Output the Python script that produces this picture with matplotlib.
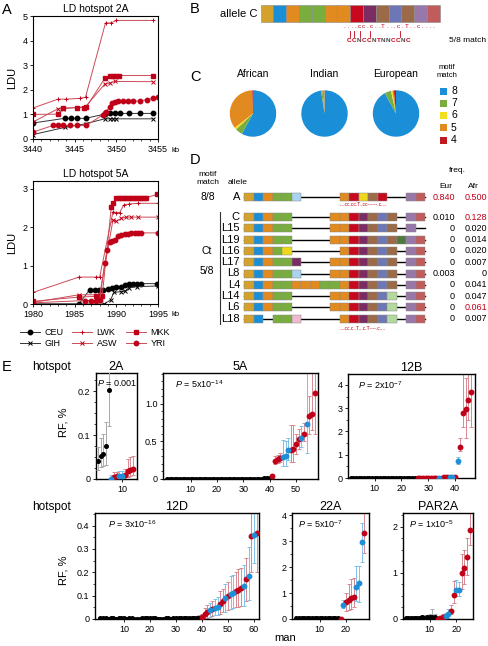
import matplotlib
matplotlib.use('Agg')
import matplotlib.pyplot as plt
from matplotlib.patches import Rectangle
from matplotlib.lines import Line2D
from matplotlib.ticker import MultipleLocator
import numpy as np

plt.rcParams['font.family'] = ['Liberation Sans', 'DejaVu Sans']
plt.rcParams['mathtext.fontset'] = 'custom'
plt.rcParams['mathtext.rm'] = 'Liberation Sans'
plt.rcParams['mathtext.it'] = 'Liberation Sans:italic'
plt.rcParams['axes.linewidth'] = 0.8

W, H = 489, 646

# ---------------- panel A : LD maps ----------------
a2_ceu_kb = [3440, 3443.8, 3444.6, 3445.3, 3446.3, 3448.6, 3449.2, 3449.8, 3450.4, 3451.5, 3452.8, 3454.4]
a2_ceu_ldu = [0.65, 0.84, 0.84, 0.84, 0.84, 1.01, 1.04, 1.04, 1.04, 1.04, 1.04, 1.04]
a2_gih_kb = [3440, 3443.8, 3446.3, 3448.6, 3449.2, 3449.6, 3450.0, 3454.4]
a2_gih_ldu = [0.18, 0.47, 0.62, 0.82, 0.82, 0.82, 0.82, 0.82]
a2_lwk_kb = [3440, 3443.0, 3443.9, 3445.6, 3446.3, 3448.7, 3449.4, 3450.0, 3454.4]
a2_lwk_ldu = [1.26, 1.62, 1.62, 1.65, 1.70, 4.72, 4.72, 4.82, 4.82]
a2_asw_kb = [3440, 3443.0, 3443.6, 3446.3, 3448.6, 3449.2, 3449.8, 3454.4]
a2_asw_ldu = [0.69, 1.23, 1.23, 1.31, 2.23, 2.27, 2.34, 2.33]
a2_mkk_kb = [3440, 3443.0, 3443.6, 3445.3, 3446.1, 3446.4, 3448.6, 3449.2, 3449.6, 3449.9, 3450.3, 3454.4]
a2_mkk_ldu = [1.0, 1.01, 1.26, 1.28, 1.28, 1.30, 2.46, 2.58, 2.58, 2.58, 2.58, 2.58]
a2_yri_kb = [3440, 3442.4, 3443.0, 3443.6, 3444.4, 3445.3, 3446.4, 3448.4, 3448.6, 3448.8, 3449.2, 3449.5,
             3449.8, 3450.2, 3450.8, 3451.4, 3452.0, 3452.8, 3453.7, 3454.4, 3455]
a2_yri_ldu = [0.28, 0.55, 0.55, 0.55, 0.55, 0.55, 0.55, 0.99, 1.04, 1.10, 1.32, 1.45,
              1.50, 1.53, 1.53, 1.53, 1.53, 1.55, 1.60, 1.65, 1.69]

a5_ceu_kb = [1980, 1985.5, 1986.8, 1987.4, 1987.9, 1988.4, 1989.0, 1989.5, 1990.0, 1990.5, 1991.0, 1991.5,
             1992.0, 1992.5, 1993.0, 1994.9]
a5_ceu_ldu = [0.0, 0.0, 0.37, 0.37, 0.37, 0.37, 0.38, 0.42, 0.43, 0.43, 0.50, 0.53,
              0.53, 0.53, 0.53, 0.53]
a5_gih_kb = [1980, 1988.5, 1989.3, 1989.7, 1990.5, 1991.0, 1991.5, 1992.5, 1995]
a5_gih_ldu = [0.0, 0.0, 0.10, 0.30, 0.32, 0.33, 0.42, 0.45, 0.47]
a5_lwk_kb = [1980, 1985.5, 1987.6, 1988.0, 1989.6, 1990.0, 1990.4, 1990.9, 1991.5, 1992.6, 1995]
a5_lwk_ldu = [0.30, 0.70, 0.70, 0.70, 2.40, 2.38, 2.38, 2.58, 2.60, 2.62, 2.62]
a5_asw_kb = [1980, 1985.5, 1988.0, 1989.6, 1990.0, 1990.6, 1991.2, 1991.8, 1992.6, 1995]
a5_asw_ldu = [0.04, 0.24, 0.24, 2.19, 2.15, 2.23, 2.26, 2.26, 2.26, 2.26]
a5_mkk_kb = [1980, 1985.5, 1987.6, 1988.0, 1988.3, 1989.4, 1989.6, 1990.0, 1990.3, 1990.6, 1990.9, 1991.2,
             1991.5, 1991.8, 1992.1, 1992.4, 1992.7, 1993.0, 1993.3, 1993.6, 1994.9]
a5_mkk_ldu = [0.07, 0.18, 0.20, 0.20, 0.20, 2.53, 2.62, 2.75, 2.75, 2.75, 2.75, 2.75,
              2.75, 2.75, 2.75, 2.76, 2.77, 2.77, 2.77, 2.77, 2.85]
a5_yri_kb = [1980, 1986.2, 1986.9, 1987.5, 1988.0, 1988.6, 1988.9, 1989.2, 1989.5, 1989.8, 1990.2, 1990.6,
             1991.0, 1991.4, 1991.8, 1992.2, 1992.6, 1993.0, 1995]
a5_yri_ldu = [0.03, 0.09, 0.09, 0.09, 0.10, 1.06, 1.40, 1.62, 1.65, 1.66, 1.78, 1.80,
              1.82, 1.82, 1.84, 1.84, 1.84, 1.85, 1.85]

# ---------------- panel B/D : allele structures ----------------
seg_colors = {'G': '#D4A22C', 'B': '#1A8ED6', 'O': '#E18A1F', 'N': '#79AD3D', 'L': '#A9D3F0',
              'R': '#C8081E', 'P': '#7A2C63', 'W': '#9A6A49', 'S': '#6D77B6', 'M': '#9878A8',
              'X': '#C05C5C', 'Y': '#EDD81C', 'D': '#4D7B3D', 'T': '#B4D9A0', 'K': '#ECB9D1'}
allele_c = 'GBONNOORPWSWMX'
motif_text = '....cc.c..T...c.T..c....'
motif_cons = 'CCNCCNTNNCCNC'

d_names = ['A', 'C', 'L15', 'L19', 'L16', 'L17', 'L8', 'L4', 'L14', 'L6', 'L18']
d_struct = ['GBONNL----ORYWR--MX',
            'GBONN----OORPWSW-MX',
            'GBONN----OORPWSW-M-',
            'GBONN----OORPWSWDMX',
            'GBONY-----ORPWSW-MX',
            'GBONNP---OORPWSW-MX',
            'GBONNL---OORPWSW-MX',
            'GBONNOOONNORPWSW-MX',
            'GBONN----OORPWST-MX',
            'GBONN----OORPWST-MX',
            'GB-NNK----ORPWST-MX']
d_eur = ['0.840', '0.010', '0', '0', '0', '0', '0.003', '0', '0', '0', '0']
d_afr = ['0.500', '0.128', '0.020', '0.014', '0.020', '0.007', '0', '0.041', '0.047', '0.061', '0.007']
d_eur_red = [True] + [False] * 10
d_afr_red = [True, True, False, False, False, False, False, False, False, True, False]

# ---------------- panel C : motif match pies ----------------
pie_groups = ['African', 'Indian', 'European']
match_levels = ['8', '7', '6', '5', '4']
match_colors = ['#1A8ED6', '#79AD3D', '#F2E01E', '#E18A1F', '#C01A20']
pie_african = [58.0, 5.0, 1.5, 35.0, 0.5]
pie_indian = [97.6, 1.0, 0.0, 1.4, 0.0]
pie_european = [92.0, 4.5, 1.0, 1.0, 1.5]

# ---------------- panel E : recombination frequency ----------------
# 2A
e2a_bx = [1, 2, 3, 4, 5]
e2a_by = [0.042, 0.053, 0.057, 0.074, 0.203]
e2a_blo = [0.020, 0.028, 0.030, 0.032, 0.120]
e2a_bhi = [0.073, 0.093, 0.103, 0.130, 0.300]
e2a_x = [6, 7, 8, 9, 10, 11, 12, 13, 14]
e2a_y = [0.0, 0.004, 0.006, 0.006, 0.006, 0.008, 0.018, 0.020, 0.022]
e2a_lo = [0.0, 0.0, 0.0, 0.0, 0.0, 0.0, 0.005, 0.007, 0.010]
e2a_hi = [0.008, 0.015, 0.017, 0.018, 0.018, 0.022, 0.045, 0.050, 0.052]
e2a_grp = ['b', 'r', 'r', 'b', 'b', 'r', 'r', 'r', 'r']

# 5A
e5a_bx = list(range(1, 41))
e5a_by = [0.002, 0.002, 0.003, 0.002, 0.002, 0.003, 0.002, 0.002, 0.002, 0.003,
          0.002, 0.002, 0.002, 0.003, 0.002, 0.002, 0.002, 0.002, 0.003, 0.002,
          0.002, 0.002, 0.003, 0.002, 0.002, 0.002, 0.002, 0.003, 0.002, 0.002,
          0.002, 0.003, 0.002, 0.002, 0.002, 0.003, 0.004, 0.008, 0.009, 0.010]
e5a_x = list(range(41, 58))
e5a_y = [0.04, 0.24, 0.26, 0.28, 0.29, 0.30, 0.385, 0.39, 0.40, 0.47, 0.53, 0.55, 0.60, 0.73, 0.84, 0.86, 1.15]
e5a_lo = [0.01, 0.20, 0.21, 0.22, 0.17, 0.17, 0.25, 0.22, 0.23, 0.33, 0.40, 0.42, 0.50, 0.35, 0.60, 0.65, 0.60]
e5a_hi = [0.07, 0.30, 0.32, 0.34, 0.52, 0.50, 0.55, 0.72, 0.72, 0.60, 0.67, 0.70, 0.75, 1.50, 1.10, 1.50, 1.50]
e5a_grp = ['r', 'r', 'r', 'r', 'b', 'b', 'b', 'r', 'r', 'r', 'r', 'b', 'r', 'b', 'r', 'r', 'r']

# 12B
e12b_bx = list(range(1, 26))
e12b_by = [0.01, 0.01, 0.01, 0.01, 0.01, 0.01, 0.01, 0.01, 0.01, 0.01, 0.01, 0.01, 0.01,
           0.01, 0.01, 0.01, 0.01, 0.01, 0.01, 0.01, 0.01, 0.01, 0.01, 0.01, 0.01]
e12b_x = list(range(26, 47))
e12b_y = [0.01, 0.01, 0.01, 0.02, 0.01, 0.02, 0.02, 0.02, 0.02, 0.02, 0.03, 0.03, 0.03, 0.04, 0.04,
          0.74, 1.35, 2.80, 2.95, 3.35, 3.70]
e12b_lo = [0.0, 0.0, 0.0, 0.0, 0.0, 0.0, 0.0, 0.0, 0.0, 0.0, 0.0, 0.0, 0.0, 0.0, 0.0,
           0.60, 1.15, 2.20, 1.70, 2.50, 2.20]
e12b_hi = [0.05, 0.05, 0.05, 0.06, 0.05, 0.06, 0.06, 0.07, 0.07, 0.07, 0.08, 0.08, 0.08, 0.09, 0.09,
           0.92, 1.72, 4.60, 4.30, 4.60, 4.60]
e12b_grp = ['r', 'r', 'r', 'r', 'r', 'r', 'r', 'r', 'b', 'r', 'r', 'r', 'b', 'b', 'r',
            'b', 'r', 'r', 'r', 'r', 'r']

# 12D
e12d_bx = list(range(1, 40))
e12d_by = [0.003, 0.003, 0.003, 0.002, 0.003, 0.003, 0.002, 0.003, 0.003, 0.003,
           0.002, 0.003, 0.003, 0.002, 0.002, 0.002, 0.003, 0.003, 0.003, 0.003,
           0.003, 0.003, 0.002, 0.002, 0.002, 0.003, 0.003, 0.002, 0.003, 0.003,
           0.003, 0.003, 0.003, 0.003, 0.003, 0.003, 0.004, 0.005, 0.006]
e12d_bhi = [0.008, 0.008, 0.009, 0.006, 0.009, 0.009, 0.007, 0.009, 0.009, 0.009,
            0.006, 0.009, 0.009, 0.006, 0.006, 0.006, 0.008, 0.009, 0.009, 0.009,
            0.009, 0.008, 0.006, 0.006, 0.006, 0.009, 0.009, 0.006, 0.008, 0.009,
            0.009, 0.009, 0.009, 0.009, 0.009, 0.010, 0.012, 0.014, 0.016]
e12d_x = list(range(40, 62))
e12d_y = [0.008, 0.020, 0.030, 0.037, 0.042, 0.048, 0.052, 0.065, 0.078, 0.088, 0.098,
          0.108, 0.112, 0.118, 0.125, 0.132, 0.142, 0.171, 0.186, 0.357, 0.360, 0.370]
e12d_lo = [0.0, 0.002, 0.006, 0.010, 0.012, 0.015, 0.016, 0.022, 0.028, 0.032, 0.040,
           0.042, 0.046, 0.050, 0.052, 0.055, 0.056, 0.075, 0.080, 0.200, 0.240, 0.200]
e12d_hi = [0.020, 0.045, 0.060, 0.070, 0.075, 0.085, 0.095, 0.120, 0.130, 0.150, 0.160,
           0.185, 0.190, 0.200, 0.215, 0.220, 0.230, 0.260, 0.310, 0.470, 0.470, 0.470]
e12d_grp = ['r', 'r', 'r', 'b', 'r', 'b', 'b', 'r', 'r', 'b', 'r',
            'b', 'b', 'r', 'r', 'r', 'b', 'r', 'b', 'r', 'b', 'r']

# 22A
e22a_bx = list(range(1, 18))
e22a_by = [0.02, 0.02, 0.02, 0.02, 0.02, 0.02, 0.02, 0.02, 0.02, 0.02, 0.02, 0.02, 0.02,
           0.02, 0.02, 0.03, 0.05]
e22a_x = [18, 19, 20, 21, 22, 23, 24, 25, 26, 27]
e22a_y = [0.01, 0.55, 0.65, 0.72, 0.80, 0.86, 1.25, 1.38, 2.95, 3.30]
e22a_lo = [0.0, 0.42, 0.30, 0.35, 0.40, 0.45, 0.70, 0.66, 2.20, 2.55]
e22a_hi = [0.04, 0.72, 1.00, 1.33, 1.55, 1.58, 2.05, 2.05, 3.70, 4.20]
e22a_grp = ['r', 'b', 'r', 'r', 'r', 'r', 'b', 'b', 'b', 'r']

# PAR2A
epar_bx = list(range(1, 13))
epar_by = [0.02, 0.02, 0.03, 0.02, 0.03, 0.03, 0.04, 0.03, 0.04, 0.05, 0.05, 0.04]
epar_bhi = [0.05, 0.05, 0.06, 0.05, 0.07, 0.07, 0.08, 0.08, 0.09, 0.10, 0.22, 0.10]
epar_x = [13, 14, 15, 16, 17, 18, 19, 20, 21, 22, 23, 24, 25]
epar_y = [0.01, 0.03, 0.05, 0.06, 0.10, 0.18, 0.53, 0.63, 0.63, 1.00, 1.10, 1.35, 1.93]
epar_lo = [0.0, 0.0, 0.01, 0.01, 0.02, 0.10, 0.35, 0.50, 0.50, 0.65, 0.75, 0.95, 1.60]
epar_hi = [0.04, 0.07, 0.10, 0.14, 0.22, 0.30, 0.82, 0.85, 0.80, 1.40, 1.50, 1.75, 2.40]
epar_grp = ['r', 'r', 'r', 'b', 'b', 'r', 'r', 'b', 'b', 'r', 'r', 'r', 'r']

RED = '#C00018'
RED_LINE = '#CC4A55'
RED_ERR = '#D98890'
BLUE = '#1E8FD6'
BLUE_ERR = '#80C2EA'
GREY_ERR = '#A8A8A8'


def box(l, t, r, b):
    return [l / W, 1 - b / H, (r - l) / W, (b - t) / H]


fig = plt.figure(figsize=(W / 100, H / 100), dpi=100)
ov = fig.add_axes([0, 0, 1, 1])
ov.set_xlim(0, W)
ov.set_ylim(H, 0)
ov.axis('off')

# ---------- A ----------
pops = ['CEU', 'GIH', 'LWK', 'ASW', 'MKK', 'YRI']
styles = {'CEU': dict(color='#333333', marker='o', ms=3.2, mfc='k', mec='k'),
          'GIH': dict(color='#333333', marker='x', ms=3.0, mfc='k', mec='k', mew=0.7),
          'LWK': dict(color=RED_LINE, marker='+', ms=3.5, mfc=RED, mec=RED, mew=0.7),
          'ASW': dict(color=RED_LINE, marker='x', ms=3.0, mfc=RED, mec=RED, mew=0.7),
          'MKK': dict(color=RED_LINE, marker='s', ms=3.2, mfc=RED, mec=RED),
          'YRI': dict(color=RED_LINE, marker='o', ms=3.2, mfc=RED, mec=RED)}

a2_data = {'CEU': (a2_ceu_kb, a2_ceu_ldu), 'GIH': (a2_gih_kb, a2_gih_ldu), 'LWK': (a2_lwk_kb, a2_lwk_ldu),
           'ASW': (a2_asw_kb, a2_asw_ldu), 'MKK': (a2_mkk_kb, a2_mkk_ldu), 'YRI': (a2_yri_kb, a2_yri_ldu)}
a5_data = {'CEU': (a5_ceu_kb, a5_ceu_ldu), 'GIH': (a5_gih_kb, a5_gih_ldu), 'LWK': (a5_lwk_kb, a5_lwk_ldu),
           'ASW': (a5_asw_kb, a5_asw_ldu), 'MKK': (a5_mkk_kb, a5_mkk_ldu), 'YRI': (a5_yri_kb, a5_yri_ldu)}

for rect, data, title, xl, yl, xt, yt in [
        ((33, 16, 158, 139), a2_data, 'LD hotspot 2A', (3440, 3455), (0, 5), [3440, 3445, 3450, 3455], range(0, 6)),
        ((33, 181, 158, 304), a5_data, 'LD hotspot 5A', (1980, 1995), (0, 3.2), [1980, 1985, 1990, 1995], range(0, 4))]:
    ax = fig.add_axes(box(*rect))
    for p in pops:
        ax.plot(data[p][0], data[p][1], lw=0.7, clip_on=True, **styles[p])
    ax.set_xlim(*xl)
    ax.set_ylim(*yl)
    ax.set_xticks(xt)
    ax.set_yticks(list(yt))
    ax.xaxis.set_minor_locator(MultipleLocator(1))
    ax.tick_params(labelsize=6.5, length=2.5, width=0.6, pad=1.5)
    ax.tick_params(which='minor', length=1.3, width=0.5)
    ax.set_title(title, fontsize=7.5, pad=3)
    ax.set_ylabel('LDU', fontsize=8, labelpad=4)

ov.text(171, 150, 'kb', fontsize=5.5, ha='left', va='center')
ov.text(171, 315, 'kb', fontsize=5.5, ha='left', va='center')

handles = [Line2D([], [], lw=0.7, **styles[p]) for p in pops]
fig.legend(handles, pops, loc='center', bbox_to_anchor=(95 / W, 1 - 338 / H), ncol=3, frameon=False,
           fontsize=6.5, handlelength=2.2, handletextpad=0.5, columnspacing=1.0, labelspacing=0.25)

# ---------- B ----------
bx0, bw, btop, bh = 260.5, 12.8, 5, 17
for i, c in enumerate(allele_c):
    ov.add_patch(Rectangle((bx0 + i * bw, btop), bw, bh, facecolor=seg_colors[c], edgecolor='#8a8a8a', lw=0.4))
ov.text(257, 14, 'allele C', fontsize=8, ha='right', va='center')
for i, ch in enumerate(motif_text):
    ov.text(344 + i * 3.9, 26, ch, fontsize=4.5, color=RED, ha='center', va='center')
for xl_ in [350, 353.5, 359.5, 369.5, 400]:
    ov.plot([xl_, xl_], [30.5, 36.5], color=RED, lw=0.6)
for i, ch in enumerate(motif_cons):
    ov.text(349 + i * 4.9, 40, ch, fontsize=4.6, color=RED if ch != 'N' else '#4a4a4a',
            ha='center', va='center', fontweight='bold')
ov.text(449, 40, '5/8 match', fontsize=6, ha='left', va='center')

# ---------- C ----------
pie_vals = [pie_african, pie_indian, pie_european]
for k, (g, vals) in enumerate(zip(pie_groups, pie_vals)):
    cxp = [253, 324.5, 396][k]
    pa = fig.add_axes(box(cxp - 29, 84.5, cxp + 29, 142.5))
    pa.pie(vals, colors=match_colors, startangle=90, counterclock=False,
           wedgeprops=dict(linewidth=0))
    pa.set_aspect('equal')
    ov.text(cxp, 74, g, fontsize=7.5, ha='center', va='center')
ov.text(447, 67.5, 'motif', fontsize=5.5, ha='center', va='center')
ov.text(447, 75.5, 'match', fontsize=5.5, ha='center', va='center')
for i, (lv, col) in enumerate(zip(match_levels, match_colors)):
    yy = 91 + i * 12.25
    ov.add_patch(Rectangle((440, yy - 3.5), 7, 7, facecolor=col, edgecolor='none'))
    ov.text(451, yy, lv, fontsize=7.5, ha='left', va='center')

# ---------- D ----------
sx0, sw, sh = 244, 9.55, 8
row_y = [197, 217, 228.3, 239.6, 250.9, 262.2, 273.5, 284.8, 296.1, 307.4, 318.7]
for name, st, ey, ay, er, ar, yy in zip(d_names, d_struct, d_eur, d_afr, d_eur_red, d_afr_red, row_y):
    ov.plot([sx0, sx0 + len(st) * sw], [yy, yy], color='black', lw=1.0, zorder=1)
    for i, c in enumerate(st):
        if c in seg_colors:
            ov.add_patch(Rectangle((sx0 + i * sw, yy - sh / 2), sw, sh, facecolor=seg_colors[c],
                                   edgecolor='#8a8a8a', lw=0.35, zorder=2))
    ov.text(240, yy, name, fontsize=8, ha='right', va='center')
    ov.text(455, yy, ey, fontsize=6.5, ha='right', va='center', color=RED if er else 'black')
    ov.text(487, yy, ay, fontsize=6.5, ha='right', va='center', color=RED if ar else 'black')

ov.text(208, 174, 'motif', fontsize=6, ha='center', va='center')
ov.text(208, 182, 'match', fontsize=6, ha='center', va='center')
ov.text(238, 182, 'allele', fontsize=6, ha='center', va='center')
ov.text(457, 171, 'freq.', fontsize=6, ha='center', va='center')
ov.text(446, 186, 'Eur', fontsize=6, ha='center', va='center')
ov.text(473, 186, 'Afr', fontsize=6, ha='center', va='center')
ov.text(208, 197, '8/8', fontsize=7.5, ha='center', va='center')
ov.text(207, 251, 'Ct', fontsize=7.5, ha='center', va='center')
ov.text(207, 271.5, '5/8', fontsize=7.5, ha='center', va='center')
ov.plot([219.5, 219.5], [212, 323.5], color='#333333', lw=0.8)
ov.text(340, 204, '....cc.cc.T..cc------.c....', fontsize=3.6, color=RED, ha='left', va='center')
ov.text(340, 328, '....cc.c..T...c.T----.c....', fontsize=3.6, color=RED, ha='left', va='center')

# ---------- E ----------


def rf_panel(rect, xl, yl, yt, ytl, ymin, xt, title, ptxt, bx, by, bhi, x, y, lo, hi, grp, blo=None):
    ax = fig.add_axes(box(*rect))
    by = np.array(by)
    bhi = np.array(bhi) if bhi is not None else by
    blo = np.array(blo) if blo is not None else by
    ax.errorbar(bx, by, yerr=[by - blo, bhi - by], fmt='o', ms=2.6, mfc='k', mec='k',
                ecolor=GREY_ERR, elinewidth=0.7, capsize=1.4, capthick=0.7, zorder=3)
    x, y, lo, hi = map(np.array, (x, y, lo, hi))
    g = np.array(grp)
    for key, mc, ec in [('r', RED, RED_ERR), ('b', BLUE, BLUE_ERR)]:
        m = g == key
        ax.errorbar(x[m], y[m], yerr=[y[m] - lo[m], hi[m] - y[m]], fmt='none',
                    ecolor=ec, elinewidth=0.7, capsize=1.4, capthick=0.7, zorder=2)
    for key, mc in [('r', RED), ('b', BLUE)]:
        m = g == key
        ax.plot(x[m], y[m], 'o', ms=3.2, color=mc, mec=mc, zorder=4)
    ax.set_xlim(*xl)
    ax.set_ylim(*yl)
    ax.set_yticks(yt)
    ax.set_yticklabels(ytl)
    ax.yaxis.set_minor_locator(MultipleLocator(ymin))
    ax.set_xticks(xt)
    ax.tick_params(labelsize=6.5, length=2.5, width=0.6, pad=1.5)
    ax.tick_params(which='minor', length=1.4, width=0.5)
    for s in ax.spines.values():
        s.set_linewidth(1.0)
    ax.set_title(title, fontsize=9, pad=2)
    ax.text(0.08 if rect[2] - rect[0] > 60 else 0.03, 0.95, ptxt, transform=ax.transAxes,
            fontsize=6.5, ha='left', va='top')
    return ax


rf_panel((96, 373, 137, 479), (0.3, 15.5), (0, 0.241), [0, 0.1, 0.2], ['0', '0.1', '0.2'], 0.025, [10],
         '2A', r'$P$ = 0.001', e2a_bx, e2a_by, e2a_bhi, e2a_x, e2a_y, e2a_lo, e2a_hi, e2a_grp, blo=e2a_blo)
rf_panel((163, 373, 318, 479), (-0.5, 58.3), (0, 1.41), [0, 0.5, 1.0], ['0', '0.5', '1.0'], 0.1,
         [10, 20, 30, 40, 50], '5A', r'$P$ = 5x10$^{-14}$', e5a_bx, e5a_by, None,
         e5a_x, e5a_y, e5a_lo, e5a_hi, e5a_grp)
rf_panel((348, 374, 475, 478), (0, 47.5), (0, 4.47), [0, 1, 2, 3, 4], ['0', '1', '2', '3', '4'], 0.5,
         [10, 20, 30, 40], '12B', r'$P$ = 2x10$^{-7}$', e12b_bx, e12b_by, None,
         e12b_x, e12b_y, e12b_lo, e12b_hi, e12b_grp)
rf_panel((95, 513, 259, 619), (-1.1, 61.9), (0, 0.454), [0, 0.1, 0.2, 0.3, 0.4],
         ['0', '0.1', '0.2', '0.3', '0.4'], 0.05, [10, 20, 30, 40, 50, 60], '12D', r'$P$ = 3x10$^{-16}$',
         e12d_bx, e12d_by, e12d_bhi, e12d_x, e12d_y, e12d_lo, e12d_hi, e12d_grp)
rf_panel((292, 513, 369, 619), (-0.65, 28.85), (0, 4.08), [0, 1, 2, 3, 4], ['0', '1', '2', '3', '4'], 0.5,
         [10, 20], '22A', r'$P$ = 5x10$^{-7}$', e22a_bx, e22a_by, None,
         e22a_x, e22a_y, e22a_lo, e22a_hi, e22a_grp)
rf_panel((403, 513, 473, 619), (0, 26.2), (0, 2.3), [0, 1, 2], ['0', '1', '2'], 0.25,
         [10, 20], 'PAR2A', r'$P$ = 1x10$^{-5}$', epar_bx, epar_by, epar_bhi,
         epar_x, epar_y, epar_lo, epar_hi, epar_grp)

ov.text(32, 367, 'hotspot', fontsize=8.5, ha='left', va='center')
ov.text(32, 507, 'hotspot', fontsize=8.5, ha='left', va='center')
ov.text(63, 422, 'RF, %', fontsize=8, rotation=90, ha='center', va='center')
ov.text(63, 570, 'RF, %', fontsize=8, rotation=90, ha='center', va='center')
ov.text(285, 638, 'man', fontsize=8, ha='center', va='center')

# panel letters
for lab, (lx, ly) in {'A': (2, 10), 'B': (190, 9), 'C': (190, 77), 'D': (190, 160), 'E': (2, 367)}.items():
    ov.text(lx, ly, lab, fontsize=10.5, ha='left', va='center')

fig.savefig('out.png', dpi=100)
